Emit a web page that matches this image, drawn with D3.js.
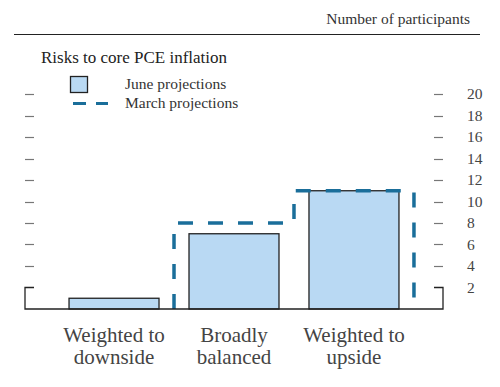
<!DOCTYPE html>
<html lang="en">
<head>
<meta charset="utf-8">
<title>Risks to core PCE inflation</title>
<script src="https://cdn.jsdelivr.net/npm/d3@7/dist/d3.min.js"></script>
<style>
    body {
        margin: 0;
        background: #fff;
    }
</style>
</head>
<body>
<div id="chart"></div>
<script>

// data
var categories = ["Weighted to\ndownside", "Broadly\nbalanced", "Weighted to\nupside"];
var juneValues = [1, 7, 11];
var marchValues = [0, 8, 11];
var tickValues = [2, 4, 6, 8, 10, 12, 14, 16, 18, 20];

var width = 500, height = 387;
var axisLeft = 25, axisRight = 443, baseY = 309;
var serif = "Liberation Serif";

var svg = d3.select("#chart")
    .append("svg")
    .attr("width", width)
    .attr("height", height);

var x = d3.scaleBand()
    .domain(categories)
    .range([axisLeft, axisRight])
    .paddingInner(0.25)
    .paddingOuter(0.367);

var y = d3.scaleLinear()
    .domain([0, 20])
    .range([baseY, 94]);

// header
svg.append("text")
    .attr("x", 470).attr("y", 24)
    .attr("text-anchor", "end")
    .attr("fill", "#333")
    .style("font-family", serif)
    .style("font-size", "15.5px")
    .text("Number of participants");

svg.append("line")
    .attr("x1", 14).attr("x2", 480)
    .attr("y1", 34.5).attr("y2", 34.5)
    .attr("stroke", "#222").attr("stroke-width", 1.2);

svg.append("text")
    .attr("x", 41).attr("y", 63)
    .attr("fill", "#222")
    .style("font-family", serif)
    .style("font-size", "17px")
    .text("Risks to core PCE inflation");

// legend
svg.append("rect")
    .attr("x", 70.5).attr("y", 76.5)
    .attr("width", 17).attr("height", 16)
    .attr("fill", "#b9d9f3").attr("stroke", "#222").attr("stroke-width", 1.3);
svg.append("text")
    .attr("x", 125).attr("y", 89)
    .attr("fill", "#333")
    .style("font-family", serif).style("font-size", "15.5px")
    .text("June projections");
svg.append("line")
    .attr("x1", 73).attr("x2", 108)
    .attr("y1", 103.5).attr("y2", 103.5)
    .attr("stroke", "#1a6e9a").attr("stroke-width", 3)
    .attr("stroke-dasharray", "13,10");
svg.append("text")
    .attr("x", 125).attr("y", 108)
    .attr("fill", "#333")
    .style("font-family", serif).style("font-size", "15.5px")
    .text("March projections");

// floating ticks on both sides
var g = svg.append("g");
tickValues.filter(function(d) { return d > 2; }).forEach(function(v) {
    g.append("line")
        .attr("x1", axisLeft).attr("x2", axisLeft + 9)
        .attr("y1", Math.round(y(v)) + 0.5).attr("y2", Math.round(y(v)) + 0.5)
        .attr("stroke", "#777").attr("stroke-width", 1.2);
    g.append("line")
        .attr("x1", axisRight - 9).attr("x2", axisRight)
        .attr("y1", Math.round(y(v)) + 0.5).attr("y2", Math.round(y(v)) + 0.5)
        .attr("stroke", "#777").attr("stroke-width", 1.2);
});

g.selectAll(".tick-label")
    .data(tickValues)
    .enter().append("text")
    .attr("class", "tick-label")
    .attr("x", 467)
    .attr("y", function(d) { return y(d) + 5; })
    .attr("fill", "#444")
    .style("font-family", serif)
    .style("font-size", "15.5px")
    .text(function(d) { return d; });

// June bars
svg.append("g").selectAll("rect")
    .data(juneValues)
    .enter().append("rect")
    .attr("x", function(d, i) { return x(categories[i]); })
    .attr("y", function(d) { return y(d); })
    .attr("width", x.bandwidth())
    .attr("height", function(d) { return baseY - y(d); })
    .attr("fill", "#b9d9f3")
    .attr("stroke", "#222")
    .attr("stroke-width", 1.3);

// March step outline
var half = x.step() * x.paddingInner() / 2;
var pts = [];
var prev = 0;
marchValues.forEach(function(v, i) {
    var x0 = x(categories[i]) - half;
    var x1 = x(categories[i]) + x.bandwidth() + half;
    if (v === 0 && pts.length === 0) return;
    if (pts.length === 0) pts.push([x0, y(prev)]);
    pts.push([x0, y(v)]);
    pts.push([x1, y(v)]);
    prev = v;
});
pts.push([pts[pts.length - 1][0], y(0)]);

svg.append("path")
    .attr("d", d3.line()(pts))
    .attr("fill", "none")
    .attr("stroke", "#1a6e9a")
    .attr("stroke-width", 3.5)
    .attr("stroke-dasharray", "15,15");

// axis frame: baseline plus the bracket at 2
var b = svg.append("g").attr("stroke", "#222").attr("stroke-width", 1.3).attr("fill", "none");
b.append("path")
    .attr("d", d3.line()([[axisLeft + 9, y(2)], [axisLeft, y(2)], [axisLeft, baseY], [axisRight, baseY], [axisRight, y(2)], [axisRight - 9, y(2)]]));

// category labels
svg.append("g").selectAll("text")
    .data(categories)
    .enter().append("text")
    .attr("class", "cat-label")
    .attr("text-anchor", "middle")
    .attr("fill", "#444")
    .style("font-family", serif)
    .style("font-size", "21px")
    .attr("x", function(d) { return x(d) + x.bandwidth() / 2; })
    .attr("y", 342)
    .each(function(d) {
        var lines = d.split("\n");
        var t = d3.select(this);
        lines.forEach(function(l, k) {
            t.append("tspan")
                .attr("x", x(d) + x.bandwidth() / 2)
                .attr("dy", k === 0 ? 0 : 22)
                .text(l);
        });
    });

</script>
</body>
</html>
